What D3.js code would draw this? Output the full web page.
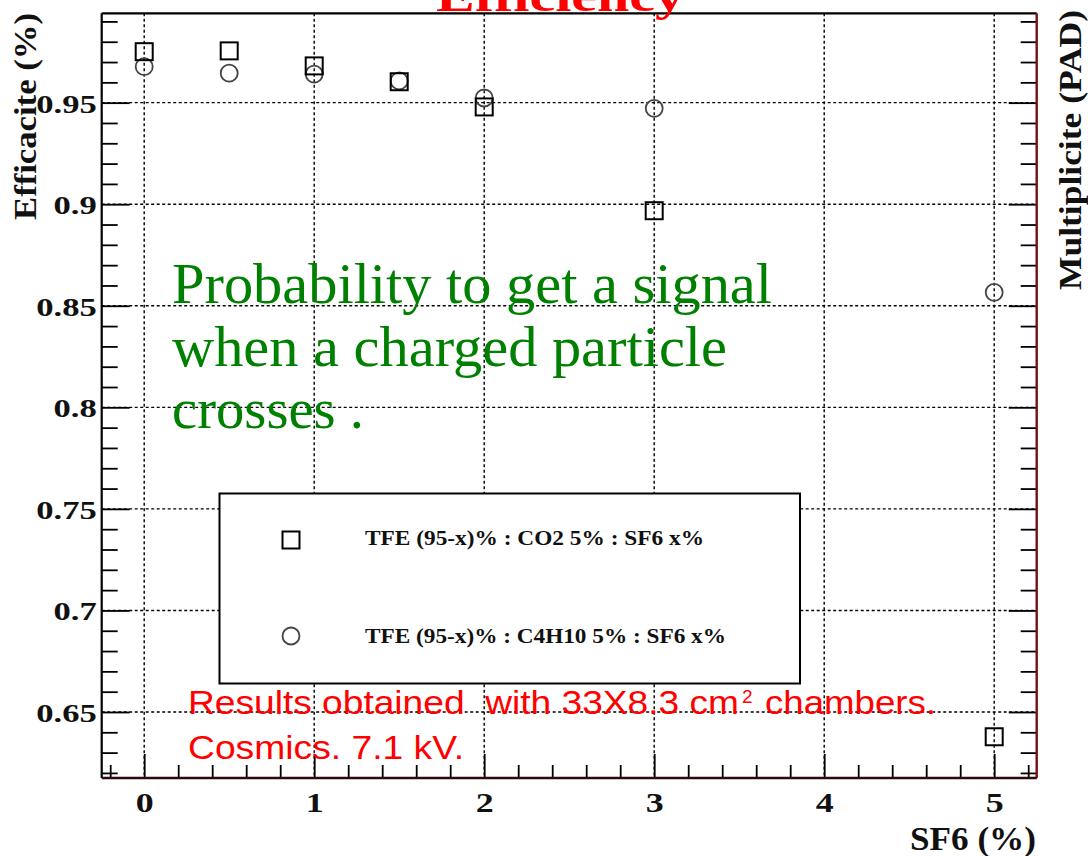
<!DOCTYPE html>
<html><head><meta charset="utf-8">
<script src="https://cdn.jsdelivr.net/npm/d3@7"></script>
<style>body{margin:0;background:#fff} text{white-space:pre}</style>
</head><body><svg id="c" width="1088" height="856"></svg>
<script>
// ---- data ----
const sf6 = [0, 0.5, 1, 1.5, 2, 3, 5];
const co2Eff = [0.9751, 0.9755, 0.9681, 0.9603, 0.9479, 0.8968, 0.6378];
const c4h10Eff = [0.9677, 0.9645, 0.9641, 0.9607, 0.9523, 0.9472, 0.8566];
const xTicks = [0, 1, 2, 3, 4, 5];
const xTickLabels = ["0", "1", "2", "3", "4", "5"];
const yTicks = [0.65, 0.7, 0.75, 0.8, 0.85, 0.9, 0.95];
const yTickLabels = ["0.65", "0.7", "0.75", "0.8", "0.85", "0.9", "0.95"];
const legendLabels = ["TFE (95-x)% : CO2 5% : SF6 x%", "TFE (95-x)% : C4H10 5% : SF6 x%"];
const titleText = "Efficiency";
const yTitle = "Efficacite (%)";
const y2Title = "Multiplicite (PAD)";
const xTitle = "SF6 (%)";
const noteLines = ["Probability to get a signal", "when a charged particle", "crosses ."];
const redLine1 = "Results obtained  with 33X8.3 cm";
const redSup = "2";
const redLine1b = "chambers.";
const redLine2 = "Cosmics. 7.1 kV.";

// ---- layout ----
const L = 101.7, R = 1036.7, T = 13.3, B = 778;
const svg = d3.select("#c");
svg.append("rect").attr("width", 1088).attr("height", 856).attr("fill", "#fff");

const x = d3.scaleLinear().domain([-0.25, 5.25]).range([L, R]);
const y = d3.scaleLinear().domain([0.6175, 0.994]).range([B, T]);

const serif = "'Liberation Serif', 'Times New Roman', serif";
const sans = "'Liberation Sans', Arial, sans-serif";

function stretch(sel, f) {
  sel.each(function () {
    const len = this.getComputedTextLength();
    d3.select(this).attr("textLength", len * f).attr("lengthAdjust", "spacingAndGlyphs");
  });
}
function fit(sel, w) { sel.attr("textLength", w).attr("lengthAdjust", "spacingAndGlyphs"); }

const xMinor = d3.range(-1, 27).map(i => +(i * 0.2).toFixed(2)).filter(v => Math.abs(v - Math.round(v)) > 1e-6);
const yMinor = d3.range(62, 100).map(i => i / 100).filter(v => Math.round(v * 100) % 5 !== 0);

// ---- grid ----
const grid = svg.append("g").attr("stroke", "#000").attr("stroke-width", 1.4).attr("stroke-dasharray", "3,2.5");
grid.selectAll("line.gx").data(xTicks).join("line").attr("class", "gx")
  .attr("x1", d => x(d)).attr("x2", d => x(d)).attr("y1", T).attr("y2", B);
grid.selectAll("line.gy").data(yTicks).join("line").attr("class", "gy")
  .attr("x1", L).attr("x2", R).attr("y1", d => y(d)).attr("y2", d => y(d));

// ---- axes ----
function styleAxis(g) {
  g.select(".domain").remove();
  g.selectAll(".tick line").attr("stroke", "#000").attr("stroke-width", 1.8);
}
// left
svg.append("g").attr("transform", `translate(${L},0)`)
  .call(d3.axisLeft(y).tickValues(yMinor).tickSize(-16).tickFormat("")).call(styleAxis);
const yAx = svg.append("g").attr("transform", `translate(${L},0)`)
  .call(d3.axisLeft(y).tickValues(yTicks).tickSize(-28).tickPadding(5).tickFormat((d, i) => yTickLabels[i]))
  .call(styleAxis);
yAx.selectAll(".tick text").attr("font-family", serif).attr("font-weight", "bold").attr("font-size", 26)
  .attr("fill", "#111").attr("dy", "0.36em").call(stretch, 1.33);
// right
svg.append("g").attr("transform", `translate(${R},0)`)
  .call(d3.axisRight(y).tickValues(yMinor).tickSize(-16).tickFormat("")).call(styleAxis);
svg.append("g").attr("transform", `translate(${R},0)`)
  .call(d3.axisRight(y).tickValues(yTicks).tickSize(-28).tickFormat("")).call(styleAxis);
// bottom
svg.append("g").attr("transform", `translate(0,${B})`)
  .call(d3.axisBottom(x).tickValues(xMinor).tickSize(-13).tickFormat("")).call(styleAxis);
const xAx = svg.append("g").attr("transform", `translate(0,${B})`)
  .call(d3.axisBottom(x).tickValues(xTicks).tickSize(-24).tickPadding(15).tickFormat((d, i) => xTickLabels[i]))
  .call(styleAxis);
xAx.selectAll(".tick text").attr("font-family", serif).attr("font-weight", "bold").attr("font-size", 27)
  .attr("fill", "#111").call(stretch, 1.33);

// ---- frame ----
svg.append("line").attr("x1", L).attr("x2", R).attr("y1", T).attr("y2", T).attr("stroke", "#000").attr("stroke-width", 2.2);
svg.append("line").attr("x1", L).attr("x2", L).attr("y1", T).attr("y2", B).attr("stroke", "#000").attr("stroke-width", 2.2);
svg.append("line").attr("x1", R).attr("x2", R).attr("y1", T).attr("y2", B).attr("stroke", "#7a0f0f").attr("stroke-width", 2.4);
svg.append("line").attr("x1", L).attr("x2", R).attr("y1", B).attr("y2", B).attr("stroke", "#2a0a0a").attr("stroke-width", 2.4);

// ---- data ----
const ms = 17;
const sqData = sf6.map((v, i) => ({ x: v, y: co2Eff[i] }));
const ciData = sf6.map((v, i) => ({ x: v, y: c4h10Eff[i] }));
svg.append("g").selectAll("circle").data(ciData).join("circle")
  .attr("cx", d => x(d.x)).attr("cy", d => y(d.y)).attr("r", ms / 2)
  .attr("fill", "none").attr("stroke", "#444").attr("stroke-width", 1.8);
svg.append("g").selectAll("rect").data(sqData).join("rect")
  .attr("x", d => x(d.x) - ms / 2).attr("y", d => y(d.y) - ms / 2).attr("width", ms).attr("height", ms)
  .attr("fill", "none").attr("stroke", "#000").attr("stroke-width", 2);

// ---- legend ----
const lg = svg.append("g");
lg.append("rect").attr("x", 219.5).attr("y", 493.5).attr("width", 580.5).attr("height", 190)
  .attr("fill", "#fff").attr("stroke", "#000").attr("stroke-width", 2);
lg.append("rect").attr("x", 291 - ms / 2).attr("y", 540 - ms / 2).attr("width", ms).attr("height", ms)
  .attr("fill", "none").attr("stroke", "#000").attr("stroke-width", 2);
lg.append("circle").attr("cx", 291).attr("cy", 636).attr("r", ms / 2)
  .attr("fill", "none").attr("stroke", "#444").attr("stroke-width", 1.8);
const lgW = [339, 361];
lg.selectAll("text").data(legendLabels).join("text")
  .attr("x", 365).attr("y", (d, i) => [545, 643][i])
  .attr("font-family", serif).attr("font-weight", "bold").attr("font-size", 22).attr("fill", "#111")
  .text(d => d).each(function (d, i) { fit(d3.select(this), lgW[i]); });

// ---- titles ----
svg.append("text").attr("x", 560).attr("y", 11).attr("text-anchor", "middle")
  .attr("font-family", serif).attr("font-weight", "bold").attr("font-size", 44).attr("fill", "#ff0000")
  .text(titleText).call(fit, 248);
svg.append("text").attr("transform", "translate(36,116.5) rotate(-90)").attr("text-anchor", "middle")
  .attr("font-family", serif).attr("font-weight", "bold").attr("font-size", 32).attr("fill", "#111")
  .text(yTitle).call(fit, 207);
svg.append("text").attr("transform", "translate(1081,150) rotate(-90)").attr("text-anchor", "middle")
  .attr("font-family", serif).attr("font-weight", "bold").attr("font-size", 32).attr("fill", "#111")
  .text(y2Title).call(fit, 280);
svg.append("text").attr("x", 1036).attr("y", 850).attr("text-anchor", "end")
  .attr("font-family", serif).attr("font-weight", "bold").attr("font-size", 34).attr("fill", "#111")
  .text(xTitle).call(fit, 126);

// ---- green annotation ----
const noteW = [600, 555, 192];
svg.append("g").selectAll("text").data(noteLines).join("text")
  .attr("x", 172).attr("y", (d, i) => 303 + i * 62.5)
  .attr("font-family", serif).attr("font-size", 58).attr("fill", "#008000")
  .text(d => d).each(function (d, i) { fit(d3.select(this), noteW[i]); });

// ---- red annotation ----
const red = svg.append("g").attr("font-family", sans).attr("fill", "#ff0000");
red.append("text").attr("x", 188).attr("y", 714).attr("font-size", 34).text(redLine1).call(fit, 551);
red.append("text").attr("x", 742).attr("y", 703).attr("font-size", 19).text(redSup);
red.append("text").attr("x", 765).attr("y", 714).attr("font-size", 34).text(redLine1b).call(fit, 171);
red.append("text").attr("x", 188).attr("y", 759).attr("font-size", 34).text(redLine2).call(fit, 276);
</script>
</body></html>
